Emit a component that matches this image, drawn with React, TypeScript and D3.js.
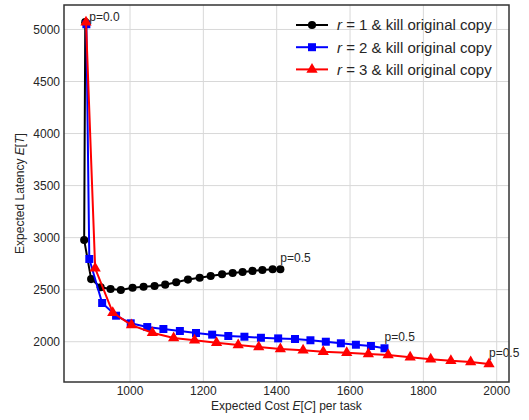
import * as d3 from "d3";
import React, { useRef, useEffect } from "react";

const blackX = [878, 875, 894, 920, 947, 975, 1007, 1037, 1067, 1096, 1126, 1158, 1190, 1220, 1251, 1280, 1307, 1334, 1361, 1389, 1410];
const blackY = [5070, 2977, 2602, 2523, 2506, 2497, 2519, 2528, 2535, 2548, 2571, 2597, 2615, 2631, 2648, 2660, 2670, 2680, 2689, 2696, 2696];
const blueX = [881, 889, 924, 962, 1002, 1047, 1091, 1136, 1180, 1224, 1268, 1312, 1357, 1404, 1450, 1492, 1534, 1575, 1616, 1657, 1694];
const blueY = [5050, 2795, 2372, 2250, 2177, 2141, 2122, 2103, 2084, 2068, 2055, 2048, 2038, 2032, 2026, 2014, 2000, 1985, 1971, 1959, 1937];
const redX = [880, 905, 953, 1004, 1061, 1119, 1176, 1236, 1295, 1351, 1410, 1472, 1527, 1591, 1650, 1704, 1764, 1820, 1875, 1929, 1979];
const redY = [5070, 2705, 2279, 2160, 2086, 2036, 2013, 1990, 1968, 1949, 1930, 1917, 1904, 1894, 1882, 1872, 1850, 1831, 1817, 1804, 1786];

const seriesNames = ["1", "2", "3"];
const xTicks = [1000, 1200, 1400, 1600, 1800, 2000];
const yTicks = [2000, 2500, 3000, 3500, 4000, 4500, 5000];

const W = 529, H = 420;
const margin = { left: 64, top: 5, right: 20, bottom: 38 };
const font = "'Liberation Sans', Arial, sans-serif";

export default function App() {
  const ref = useRef<SVGSVGElement>(null);

  useEffect(() => {
    const svg = d3.select(ref.current);
    svg.selectAll("*").remove();

    const x = d3.scaleLinear().domain([820, 2033.5]).range([margin.left, W - margin.right]);
    const y = d3.scaleLinear().domain([1613, 5235]).range([H - margin.bottom, margin.top]);

    // grid
    svg.append("g").selectAll("line").data(xTicks).enter().append("line")
      .attr("x1", d => x(d)).attr("x2", d => x(d))
      .attr("y1", margin.top).attr("y2", H - margin.bottom)
      .attr("stroke", "#d8d8d8").attr("stroke-width", 1);
    svg.append("g").selectAll("line").data(yTicks).enter().append("line")
      .attr("x1", margin.left).attr("x2", W - margin.right)
      .attr("y1", d => y(d)).attr("y2", d => y(d))
      .attr("stroke", "#d8d8d8").attr("stroke-width", 1);

    // tick labels
    svg.append("g").selectAll("text").data(xTicks).enter().append("text")
      .attr("x", d => x(d)).attr("y", H - margin.bottom + 12.5)
      .attr("text-anchor", "middle")
      .attr("font-size", "12px").attr("font-family", font).attr("fill", "#262626")
      .text(d => d);
    svg.append("g").selectAll("text").data(yTicks).enter().append("text")
      .attr("x", margin.left - 4).attr("y", d => y(d) + 4.3)
      .attr("text-anchor", "end")
      .attr("font-size", "12px").attr("font-family", font).attr("fill", "#262626")
      .text(d => d);

    // axis labels
    const xl = svg.append("text")
      .attr("x", (margin.left + W - margin.right) / 2).attr("y", 410)
      .attr("text-anchor", "middle")
      .attr("font-size", "12px").attr("font-family", font).attr("fill", "#262626");
    xl.append("tspan").text("Expected Cost ");
    xl.append("tspan").attr("font-style", "italic").text("E");
    xl.append("tspan").text("[");
    xl.append("tspan").attr("font-style", "italic").text("C");
    xl.append("tspan").text("] per task");

    const yl = svg.append("text")
      .attr("transform", `translate(24,${(margin.top + H - margin.bottom) / 2}) rotate(-90)`)
      .attr("text-anchor", "middle")
      .attr("font-size", "12px").attr("font-family", font).attr("fill", "#262626");
    yl.append("tspan").text("Expected Latency ");
    yl.append("tspan").attr("font-style", "italic").text("E");
    yl.append("tspan").text("[");
    yl.append("tspan").attr("font-style", "italic").text("T");
    yl.append("tspan").text("]");

    const series = [
      { name: seriesNames[0], xs: blackX, ys: blackY, color: "black", symbol: d3.symbolCircle, size: 52 },
      { name: seriesNames[1], xs: blueX, ys: blueY, color: "blue", symbol: d3.symbolSquare, size: 64 },
      { name: seriesNames[2], xs: redX, ys: redY, color: "red", symbol: d3.symbolTriangle, size: 55 },
    ];

    series.forEach(s => {
      const pts = s.xs.map((v, i) => [x(v), y(s.ys[i])] as [number, number]);
      svg.append("path")
        .attr("d", d3.line()(pts))
        .attr("fill", "none").attr("stroke", s.color).attr("stroke-width", 2);
      svg.append("g").selectAll("path").data(pts).enter().append("path")
        .attr("transform", d => `translate(${d[0]},${d[1]})`)
        .attr("d", d3.symbol().type(s.symbol).size(s.size)())
        .attr("fill", s.color);
    });

    // p labels
    svg.append("text")
      .attr("x", x(blackX[0]) + 4).attr("y", y(blackY[0]) - 1)
      .attr("font-size", "12px").attr("font-family", font).attr("fill", "#262626")
      .text("p=0.0");
    series.forEach(s => {
      const n = s.xs.length - 1;
      svg.append("text")
        .attr("x", x(s.xs[n])).attr("y", y(s.ys[n]) - 7)
        .attr("font-size", "12px").attr("font-family", font).attr("fill", "#262626")
        .text("p=0.5");
    });

    // frame
    svg.append("rect")
      .attr("x", margin.left).attr("y", margin.top)
      .attr("width", W - margin.left - margin.right).attr("height", H - margin.top - margin.bottom)
      .attr("fill", "none").attr("stroke", "#333").attr("stroke-width", 1.5);

    // legend
    const leg = svg.append("g");
    series.forEach((s, i) => {
      const ly = 25 + i * 22.2;
      leg.append("line").attr("x1", 296).attr("x2", 328).attr("y1", ly).attr("y2", ly)
        .attr("stroke", s.color).attr("stroke-width", 2);
      leg.append("path").attr("transform", `translate(312,${ly})`)
        .attr("d", d3.symbol().type(s.symbol).size(s.size)())
        .attr("fill", s.color);
      const t = leg.append("text").attr("x", 337).attr("y", ly + 5.3)
        .attr("font-size", "15px").attr("font-family", font).attr("fill", "#262626");
      t.append("tspan").attr("font-style", "italic").text("r");
      t.append("tspan").text(` = ${s.name} & kill original copy`);
    });
  }, []);

  return (
    <div>
      <svg ref={ref} width={W} height={H} style={{ position: "absolute", left: 0, top: 0 }}></svg>
    </div>
  );
}
